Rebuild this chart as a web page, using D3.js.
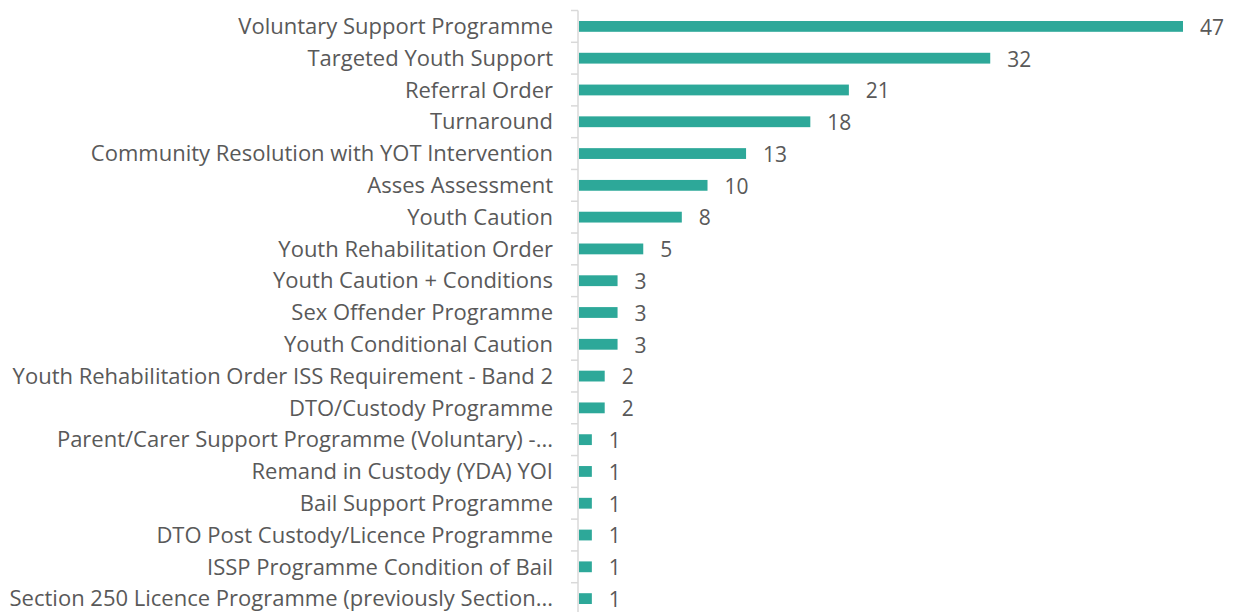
<!DOCTYPE html>
<html>
<head>
<meta charset="utf-8">
<script src="https://cdn.jsdelivr.net/npm/d3@7"></script>
<style>
    body { margin: 0; background: #fff; overflow: hidden; }
    text { font-family: "Open Sans", sans-serif; fill: #595959; }
</style>
</head>
<body>
<svg id="chart" width="1239" height="612"></svg>
<script>
let categories = [
    "Voluntary Support Programme",
    "Targeted Youth Support",
    "Referral Order",
    "Turnaround",
    "Community Resolution with YOT Intervention",
    "Asses Assessment",
    "Youth Caution",
    "Youth Rehabilitation Order",
    "Youth Caution + Conditions",
    "Sex Offender Programme",
    "Youth Conditional Caution",
    "Youth Rehabilitation Order ISS Requirement - Band 2",
    "DTO/Custody Programme",
    "Parent/Carer Support Programme (Voluntary) -...",
    "Remand in Custody (YDA) YOI",
    "Bail Support Programme",
    "DTO Post Custody/Licence Programme",
    "ISSP Programme Condition of Bail",
    "Section 250 Licence Programme (previously Section..."
];
let values = [47, 32, 21, 18, 13, 10, 8, 5, 3, 3, 3, 2, 2, 1, 1, 1, 1, 1, 1];

let margin = {top: 10.5, left: 578};
let width = 605;
let height = 604;

let svg = d3.select("#chart").append("g")
    .attr("transform", `translate(${margin.left}, ${margin.top})`);

// Scales
let x = d3.scaleLinear()
    .domain([0, 47])
    .range([1, 605]);
let y = d3.scaleBand()
    .domain(categories)
    .range([0, height])
    .paddingInner(0.66)
    .paddingOuter(0.33);

// Bars
svg.selectAll(".bar")
    .data(values)
    .enter().append("rect")
    .attr("class", "bar")
    .attr("x", x(0))
    .attr("y", (d, i) => y(categories[i]))
    .attr("width", d => x(d) - x(0))
    .attr("height", y.bandwidth())
    .attr("fill", "#2DA899");

// Value labels
svg.selectAll(".val")
    .data(values)
    .enter().append("text")
    .attr("class", "val")
    .attr("x", d => x(d) + 17)
    .attr("y", (d, i) => y(categories[i]) + y.bandwidth() / 2 + 1)
    .attr("dy", "0.35em")
    .attr("font-size", "21px")
    .text(d => d);

// Y axis: line + ticks at band boundaries
let step = y.step();
svg.append("line")
    .attr("x1", 0).attr("x2", 0)
    .attr("y1", 0).attr("y2", height)
    .attr("stroke", "#d9d9d9")
    .attr("stroke-width", 1.5);
svg.selectAll(".tick")
    .data(d3.range(categories.length + 1))
    .enter().append("line")
    .attr("x1", -7).attr("x2", 0)
    .attr("y1", d => d * step)
    .attr("y2", d => d * step)
    .attr("stroke", "#d9d9d9")
    .attr("stroke-width", 1.5);

// Category labels
svg.selectAll(".cat")
    .data(categories)
    .enter().append("text")
    .attr("class", "cat")
    .attr("x", -25)
    .attr("y", d => y(d) + y.bandwidth() / 2)
    .attr("dy", "0.35em")
    .attr("text-anchor", "end")
    .attr("font-size", "22px")
    .text(d => d);
</script>
</body>
</html>
